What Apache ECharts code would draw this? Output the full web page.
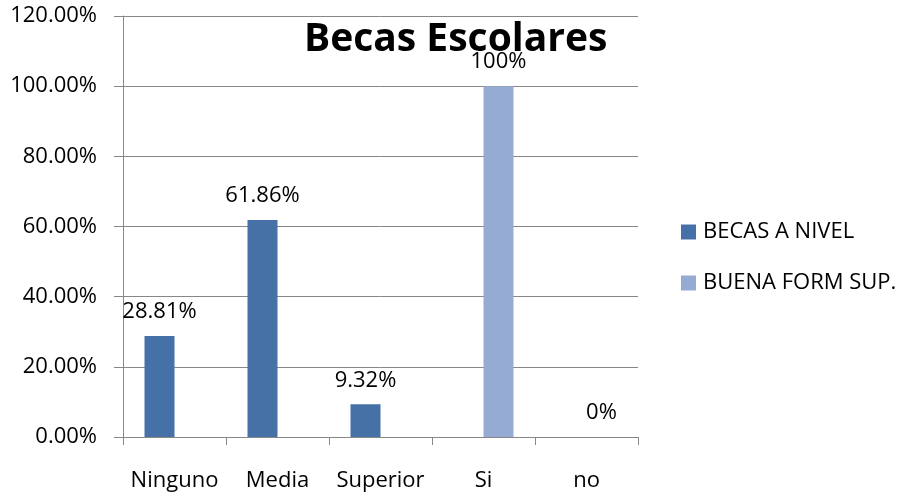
<!DOCTYPE html>
<html>
<head>
<meta charset="utf-8">
<script src="https://cdn.jsdelivr.net/npm/echarts@6/dist/echarts.min.js"></script>
<style>
  html, body { margin: 0; padding: 0; background: #fff; }
  #main { width: 910px; height: 496px; }
</style>
</head>
<body>
<div id="main"></div>
<script>
// categorias y valores
const categories = ['Ninguno', 'Media', 'Superior', 'Si', 'no']
const becasNivel = [28.81, 61.86, 9.32, '-', '-']
const buenaForm = ['-', '-', '-', 100, 0]
const seriesNames = ['BECAS A NIVEL', 'BUENA FORM SUP.']
const yTicks = { min: 0, max: 120, interval: 20 }

const chart = echarts.init(document.getElementById('main'), null, { renderer: 'canvas' })
const font = '"Open Sans", sans-serif'
const gray = '#878787'

const labelStyle = {
  show: true,
  position: 'top',
  distance: 13,
  color: '#000',
  fontFamily: font,
  fontSize: 22,
  formatter: function (p) {
    return p.value + '%'
  }
}

const option = {
  animation: false,
  backgroundColor: '#fff',
  textStyle: { fontFamily: font },
  title: {
    text: 'Becas Escolares',
    left: 299,
    top: 15,
    textStyle: {
      fontFamily: font,
      fontSize: 39,
      fontWeight: 'bold',
      color: '#000'
    }
  },
  legend: {
    orient: 'vertical',
    left: 676,
    top: 216,
    icon: 'rect',
    itemWidth: 15,
    itemHeight: 15,
    itemGap: 29,
    textStyle: {
      fontFamily: font,
      fontSize: 22,
      lineHeight: 20,
      color: '#000',
      padding: [0, 0, 0, 2]
    },
    data: seriesNames
  },
  grid: {
    left: 123,
    right: 272,
    top: 16,
    bottom: 59
  },
  xAxis: {
    type: 'category',
    data: categories,
    axisLine: { lineStyle: { color: gray, width: 1 } },
    axisTick: { show: true, length: 8, lineStyle: { color: gray } },
    axisLabel: {
      color: '#000',
      fontFamily: font,
      fontSize: 22,
      interval: 0,
      margin: 33
    }
  },
  yAxis: {
    type: 'value',
    min: yTicks.min,
    max: yTicks.max,
    interval: yTicks.interval,
    axisLine: { show: true, lineStyle: { color: gray, width: 1 } },
    axisTick: { show: true, length: 9, lineStyle: { color: gray } },
    splitLine: { lineStyle: { color: gray, width: 1 } },
    axisLabel: {
      color: '#000',
      fontFamily: font,
      fontSize: 22,
      margin: 26,
      formatter: function (v) {
        return v.toFixed(2) + '%'
      }
    }
  },
  series: [{
      name: seriesNames[0],
      type: 'bar',
      barWidth: 30,
      barGap: '0%',
      itemStyle: { color: '#4571A7' },
      label: labelStyle,
      data: becasNivel
    },
    {
      name: seriesNames[1],
      type: 'bar',
      barWidth: 30,
      barGap: '0%',
      itemStyle: { color: '#95ABD3' },
      label: labelStyle,
      data: buenaForm
    }
  ]
}
chart.setOption(option)
</script>
</body>
</html>
